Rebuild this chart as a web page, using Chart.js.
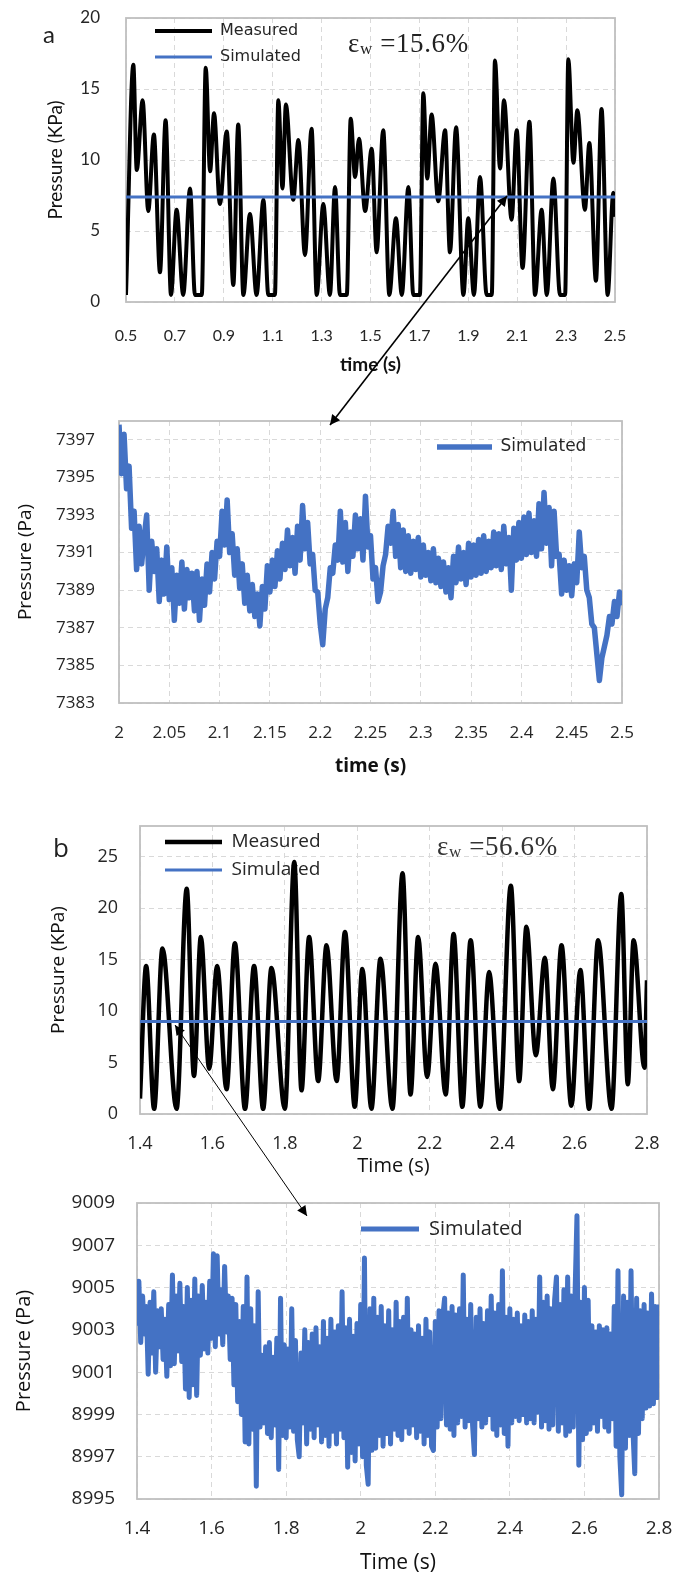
<!DOCTYPE html>
<html>
<head>
<meta charset="utf-8">
<script src="https://cdn.jsdelivr.net/npm/chart.js@4.4.0/dist/chart.umd.min.js"></script>
<style>
    body { margin: 0; background: #fff; }
    #page { position: relative; width: 689px; height: 1579px; overflow: hidden; background: #fff; }
    #page canvas { position: absolute; left: 0; }
    .tag { position: absolute; white-space: nowrap; line-height: 1; color: #222; }
    .eps { font-family: "Liberation Serif", "DejaVu Serif", serif; font-size: 27px; letter-spacing: 0.6px; color: #222; }
    .eps sub { font-size: 17px; vertical-align: -2px; }
    #arrows { position: absolute; left: 0; top: 0; pointer-events: none; }
</style>
</head>
<body>
<div id="page">
    <canvas id="chartA" width="689" height="395" style="top:0px"></canvas>
    <canvas id="chartA2" width="689" height="390" style="top:395px"></canvas>
    <canvas id="chartB" width="689" height="390" style="top:790px"></canvas>
    <canvas id="chartB2" width="689" height="399" style="top:1180px"></canvas>

    <div class="tag" style="left:43px; top:19px; font:24px Lato, sans-serif;">a</div>
    <div class="tag eps" style="left:348px; top:30px;">ε<sub>w</sub> =15.6%</div>
    <div class="tag" style="left:53px; top:829px; font:26px 'Open Sans', sans-serif;">b</div>
    <div class="tag eps" style="left:437px; top:833px; color:#333;">ε<sub>w</sub> =56.6%</div>

    <svg id="arrows" width="689" height="1579">
        <defs>
            <marker id="head" viewBox="0 0 10 10" refX="10" refY="5" markerUnits="userSpaceOnUse"
                    markerWidth="13" markerHeight="10" orient="auto-start-reverse">
                <path d="M0,0 L10,5 L0,10 z" fill="#000"></path>
            </marker>
        </defs>
        <line x1="507" y1="196" x2="330" y2="425" stroke="#000" stroke-width="1.6"
              marker-start="url(#head)" marker-end="url(#head)"></line>
        <line x1="175" y1="1025" x2="307" y2="1216" stroke="#000" stroke-width="1"
              marker-start="url(#head)" marker-end="url(#head)"></line>
    </svg>
</div>

<script>
// ---------- (a) measured vs simulated, kPa ----------
const timeA = [0.5, 0.53, 0.544, 0.568, 0.591, 0.614, 0.639, 0.662, 0.684, 0.707, 0.734, 0.762, 0.782, 0.81,
    0.826, 0.844, 0.86, 0.884, 0.912, 0.939, 0.959, 0.98, 1.007, 1.034, 1.062, 1.082, 1.109, 1.123, 1.14, 1.154,
    1.184, 1.205, 1.232, 1.259, 1.28, 1.307, 1.334, 1.355, 1.375, 1.403, 1.419, 1.437, 1.453, 1.478, 1.505, 1.525,
    1.552, 1.577, 1.604, 1.628, 1.655, 1.675, 1.702, 1.716, 1.732, 1.75, 1.777, 1.805, 1.825, 1.85, 1.88, 1.9,
    1.923, 1.948, 1.975, 1.996, 2.009, 2.03, 2.046, 2.077, 2.098, 2.122, 2.15, 2.173, 2.2, 2.221, 2.248, 2.275,
    2.296, 2.309, 2.33, 2.346, 2.377, 2.395, 2.422, 2.445, 2.47, 2.493, 2.5];
const measuredA = [0.5, 16.7, 9.3, 14.2, 6.4, 11.8, 2.1, 12.8, 0.5, 6.5, 0.5, 8.0, 0.5, 0.5,
    16.5, 9.2, 13.3, 6.9, 12.0, 1.2, 12.5, 0.5, 6.2, 0.5, 7.2, 0.5, 0.5, 14.2, 8.0, 13.9,
    7.2, 11.4, 3.3, 12.2, 0.5, 6.9, 0.5, 8.1, 0.5, 0.5, 12.9, 8.8, 11.5, 6.4, 10.8, 3.5,
    12.1, 0.5, 5.9, 0.5, 8.1, 0.5, 0.5, 14.7, 8.7, 13.2, 7.1, 12.1, 3.5, 12.3, 0.5, 5.9,
    0.5, 8.8, 0.5, 0.5, 17.0, 9.4, 14.2, 5.8, 12.1, 2.4, 12.7, 0.5, 6.5, 0.5, 8.7, 0.5,
    0.5, 17.1, 9.8, 13.5, 6.5, 11.2, 1.5, 13.6, 0.5, 7.7, 6.0];
const simTimeA = [0.5, 2.5];
const simulatedA = [7.39, 7.39];
const xTicksA = [0.5, 0.7, 0.9, 1.1, 1.3, 1.5, 1.7, 1.9, 2.1, 2.3, 2.5];
const yTicksA = [0, 5, 10, 15, 20];

// ---------- (a) zoom: simulated only, Pa, sampled every 2.5 ms from 2.0 s ----------
const zoomStartA = 2.0;
const zoomStepA = 0.0025;
const zoomSimA = [
    7397.8, 7395.2, 7397.3, 7394.4, 7395.6, 7392.3, 7393.2, 7390.1, 7392.4, 7390.4,
    7391.8, 7393.0, 7389.0, 7391.6, 7390.0, 7391.2, 7388.4, 7390.6, 7388.8, 7391.3,
    7388.5, 7390.2, 7387.4, 7389.8, 7388.3, 7390.5, 7388.0, 7390.1, 7388.6, 7389.9,
    7387.9, 7390.0, 7387.4, 7389.6, 7388.2, 7390.4, 7388.9, 7391.0, 7389.6, 7391.6,
    7390.8, 7393.2, 7391.4, 7393.8, 7391.0, 7392.0, 7389.8, 7391.2, 7389.1, 7390.4,
    7388.3, 7389.8, 7387.9, 7389.3, 7387.6, 7388.8, 7387.1, 7389.2, 7388.0, 7390.3,
    7388.9, 7390.6, 7389.2, 7391.1, 7389.6, 7391.5, 7390.1, 7392.2, 7390.3, 7391.8,
    7389.9, 7392.4, 7390.6, 7393.5, 7391.2, 7392.6, 7390.4, 7390.9, 7389.0, 7388.9,
    7387.2, 7386.1, 7388.0, 7388.6, 7390.2, 7389.9, 7391.4, 7390.6, 7393.2, 7390.5,
    7392.6, 7390.0, 7392.1, 7390.8, 7393.0, 7391.2, 7392.8, 7390.6, 7394.0, 7391.3,
    7391.9, 7389.6, 7390.2, 7388.4, 7388.9, 7390.3, 7390.9, 7392.4, 7391.5, 7393.2,
    7390.8, 7392.5, 7390.2, 7392.2, 7390.0, 7391.9, 7389.9, 7391.6, 7390.1, 7391.8,
    7389.7, 7391.4, 7389.8, 7391.0, 7389.5, 7391.2, 7389.4, 7390.7, 7389.2, 7390.5,
    7388.9, 7390.2, 7388.6, 7390.8, 7389.4, 7391.3, 7389.6, 7391.0, 7389.3, 7391.5,
    7389.7, 7391.4, 7389.8, 7391.7, 7389.9, 7391.9, 7390.0, 7391.6, 7390.2, 7392.1,
    7390.3, 7392.0, 7390.1, 7392.4, 7390.4, 7391.8, 7389.0, 7392.3, 7390.6, 7392.6,
    7390.7, 7392.9, 7390.9, 7393.1, 7391.0, 7392.7, 7390.8, 7393.6, 7391.2, 7394.2,
    7391.5, 7393.4, 7390.3, 7393.2, 7390.8, 7390.9, 7388.8, 7390.6, 7389.0, 7390.3,
    7388.7, 7390.4, 7389.4, 7392.1, 7390.2, 7390.8, 7389.0, 7388.6, 7387.2, 7387.0,
    7385.6, 7384.2, 7385.4, 7386.0, 7386.6, 7387.6, 7387.2, 7388.4, 7387.6, 7388.9,
    7388.2];
const xTicksA2 = [2, 2.05, 2.1, 2.15, 2.2, 2.25, 2.3, 2.35, 2.4, 2.45, 2.5];
const yTicksA2 = [7383, 7385, 7387, 7389, 7391, 7393, 7395, 7397];

// ---------- (b) measured vs simulated, kPa ----------
const timeB = [1.4, 1.417, 1.439, 1.462, 1.501, 1.529, 1.549, 1.568, 1.591, 1.613, 1.639, 1.662, 1.69, 1.715,
    1.74, 1.763, 1.8, 1.826, 1.846, 1.867, 1.892, 1.915, 1.943, 1.966, 1.993, 2.014, 2.039, 2.064, 2.097, 2.125,
    2.147, 2.168, 2.193, 2.216, 2.244, 2.266, 2.29, 2.313, 2.34, 2.364, 2.393, 2.424, 2.447, 2.467, 2.493, 2.518,
    2.54, 2.564, 2.591, 2.616, 2.64, 2.665, 2.702, 2.729, 2.747, 2.763, 2.793, 2.8];
const measuredB = [1.5, 14.4, 0.5, 16.1, 0.5, 21.9, 3.7, 17.2, 4.4, 14.4, 2.4, 16.6, 0.5, 14.4,
    0.5, 14.2, 0.5, 24.5, 2.3, 17.2, 3.2, 16.4, 3.2, 17.7, 0.7, 14.1, 0.5, 15.1, 0.5, 23.4,
    1.9, 17.2, 3.6, 14.6, 1.9, 17.5, 0.7, 16.9, 0.7, 13.8, 0.5, 22.2, 3.2, 18.2, 5.7, 15.2,
    2.4, 16.4, 0.8, 14.0, 0.5, 16.9, 0.5, 21.4, 2.9, 16.9, 4.5, 13.0];
const simTimeB = [1.4, 2.8];
const simulatedB = [9.0, 9.0];
const xTicksB = [1.4, 1.6, 1.8, 2, 2.2, 2.4, 2.6, 2.8];
const yTicksB = [0, 5, 10, 15, 20, 25];

// ---------- (b) zoom: simulated only, Pa, sampled every 5 ms from 1.4 s ----------
const zoomStartB = 1.4;
const zoomStepB = 0.005;
const zoomSimB = [
    9003.2, 9005.3, 9002.4, 9004.6, 9002.8, 9004.1, 9000.9, 9004.3, 9001.9, 9004.8,
    9001.0, 9003.9, 9002.2, 9004.0, 9001.6, 9003.5, 9000.8, 9004.2, 9001.3, 9005.6,
    9001.4, 9004.6, 9002.0, 9005.2, 9001.5, 9004.1, 9000.2, 9005.0, 8999.8, 9004.4,
    9000.4, 9005.4, 8999.9, 9004.6, 9001.8, 9005.1, 9002.1, 9004.3, 9001.9, 9005.3,
    9002.6, 9006.6, 9002.2, 9006.5, 9002.8, 9004.9, 9002.3, 9006.0, 9002.9, 9004.6,
    9001.6, 9004.5, 9000.4, 9004.2, 8999.6, 9003.4, 8999.0, 9004.1, 8997.7, 9005.5,
    8997.6, 9004.0, 8998.3, 9003.2, 8995.6, 9004.8, 8998.4, 9001.8, 8998.6, 9002.2,
    8998.1, 9002.4, 8997.9, 9001.7, 8998.5, 9002.6, 8996.4, 9004.5, 8998.0, 9002.3,
    8997.9, 9002.1, 8998.4, 9004.0, 8998.2, 9002.5, 8997.8, 8997.0, 9001.9, 8998.6,
    9003.0, 8997.6, 9002.4, 8998.3, 9002.8, 8997.9, 9003.1, 8998.5, 9002.2, 8997.7,
    9003.4, 8998.0, 9002.6, 8997.5, 9003.5, 8998.2, 9002.9, 8997.6, 9003.2, 8998.3,
    9004.8, 8997.9, 9003.1, 8996.5, 9003.5, 8997.2, 9002.7, 8996.8, 9003.3, 8997.6,
    9004.2, 8997.0, 9006.4, 8996.6, 8995.7, 9004.0, 8997.3, 9004.5, 8997.4, 9003.6,
    8998.0, 9004.1, 8997.5, 9003.2, 8998.1, 9003.9, 8997.6, 9003.0, 8998.3, 9004.3,
    8998.0, 9003.4, 8997.8, 9003.6, 8998.4, 9004.5, 8998.1, 9003.0, 8998.5, 9002.8,
    8997.9, 9003.2, 8998.2, 9002.6, 8997.6, 9003.5, 8998.0, 9002.9, 8997.5, 8997.3,
    9003.4, 8998.4, 9003.9, 8998.8, 9003.6, 9004.5, 8998.5, 9003.8, 8998.3, 9004.1,
    8998.0, 9003.7, 8998.6, 9004.0, 8998.9, 9005.6, 8998.4, 9003.5, 8998.7, 9004.2,
    8998.5, 8997.1, 9003.6, 8998.8, 9004.0, 8998.4, 9003.3, 8998.6, 9003.9, 8999.0,
    9004.6, 8998.3, 9003.8, 8998.0, 9004.2, 8998.5, 9005.8, 8998.1, 9003.6, 8997.5,
    9004.0, 8998.6, 9003.5, 8998.9, 9003.8, 8998.7, 9003.2, 8999.0, 9003.7, 8998.6,
    9003.4, 8998.8, 9003.9, 8998.6, 9003.5, 8999.1, 9005.5, 8998.4, 9004.3, 8998.7,
    9004.6, 8998.3, 9004.0, 8998.5, 9004.4, 9005.5, 8998.2, 9004.2, 8998.6, 9004.9,
    8998.0, 9005.5, 8998.2, 9004.6, 8998.4, 9004.8, 9008.4, 8996.6, 9004.3, 8997.8,
    9005.0, 8998.1, 9004.4, 8998.3, 9003.2, 8998.6, 9002.9, 8998.2, 9003.2, 8998.9,
    9003.0, 8998.4, 9003.1, 8998.2, 9002.8, 8998.8, 9004.1, 8997.5, 9005.8, 8997.0,
    8995.2, 9004.6, 8997.4, 9004.3, 8998.0, 9005.8, 8998.3, 8996.2, 9004.5, 8998.1,
    9003.9, 8998.8, 9004.2, 8999.3, 9003.8, 8999.4, 9004.7, 8999.5, 9004.1, 8999.8,
    9004.2];
const xTicksB2 = [1.4, 1.6, 1.8, 2, 2.2, 2.4, 2.6, 2.8];
const yTicksB2 = [8995, 8997, 8999, 9001, 9003, 9005, 9007, 9009];

const BLUE = "#4472C4";
const GRID = "#d9d9d9";

function pairs(xs, ys) {
    return ys.map((y, i) => ({ x: xs[i], y: y }));
}
function sampled(start, step, ys) {
    return ys.map((y, i) => ({ x: +(start + i * step).toFixed(4), y: y }));
}

// grey frame round the plot area, under the lines
const framePlugin = {
    id: "frame",
    beforeDatasetsDraw(chart) {
        const { ctx, chartArea: a } = chart;
        ctx.save();
        ctx.strokeStyle = "#bfbfbf";
        ctx.lineWidth = 1.8;
        ctx.setLineDash([]);
        ctx.strokeRect(a.left, a.top, a.right - a.left, a.bottom - a.top);
        ctx.restore();
    },
};

// put the legend at a fixed spot inside the plot area
const legendSpot = {
    id: "legendSpot",
    afterLayout(chart, args, opts) {
        const lg = chart.legend;
        if (!lg || opts.x == null) return;
        const pad = lg.options.labels.padding;
        const fs = lg.options.labels.font.size;
        lg.left = opts.x - pad;
        lg.top = opts.y - pad - fs / 2;
    },
};

function build(id, s) {
    const tickText = (v) => String(+Number(v).toFixed(3));
    return new Chart(document.getElementById(id), {
        type: "line",
        data: { datasets: s.datasets },
        options: {
            responsive: false,
            animation: false,
            devicePixelRatio: 1,
            layout: { padding: s.pad },
            elements: { point: { radius: 0 } },
            plugins: {
                tooltip: { enabled: false },
                legend: {
                    position: "chartArea",
                    align: "start",
                    labels: {
                        usePointStyle: true,
                        pointStyle: "line",
                        pointStyleWidth: s.legend.w,
                        padding: s.legend.pad,
                        color: "#262626",
                        font: { family: s.legend.family || s.font, size: s.legend.size },
                        sort: (a, b) => a.datasetIndex - b.datasetIndex,
                    },
                },
                legendSpot: { x: s.legend.x, y: s.legend.y },
            },
            scales: {
                x: {
                    type: "linear",
                    min: s.xTicks[0],
                    max: s.xTicks[s.xTicks.length - 1],
                    afterBuildTicks: (ax) => { ax.ticks = s.xTicks.map((v) => ({ value: v })); },
                    afterFit: (ax) => { ax.height = s.xAxisH; ax.paddingLeft = 0; ax.paddingRight = 0; },
                    grid: { color: GRID, lineWidth: 1, drawTicks: false },
                    border: { display: false, dash: [5, 4] },
                    ticks: {
                        autoSkip: false, maxRotation: 0, padding: s.xPad, color: "#262626",
                        font: { family: s.font, size: s.xSize }, callback: tickText,
                    },
                    title: {
                        display: true, text: s.xTitle, color: "#111", padding: 0,
                        font: { family: s.font, size: s.xTitleSize, weight: s.xTitleWeight },
                    },
                },
                y: {
                    type: "linear",
                    min: s.yMin,
                    max: s.yMax,
                    afterBuildTicks: (ax) => { ax.ticks = s.yTicks.map((v) => ({ value: v })); },
                    afterFit: (ax) => { ax.width = s.yAxisW; ax.paddingTop = 0; ax.paddingBottom = 0; },
                    grid: { color: GRID, lineWidth: 1, drawTicks: false },
                    border: { display: false, dash: [5, 4] },
                    ticks: {
                        padding: s.yPad, color: "#262626",
                        font: { family: s.font, size: s.ySize }, callback: tickText,
                    },
                    title: {
                        display: true, text: s.yTitle, color: "#111", padding: 0,
                        font: { family: s.font, size: s.yTitleSize },
                    },
                },
            },
        },
        plugins: [framePlugin, legendSpot],
    });
}

// (a)
build("chartA", {
    font: "Lato",
    pad: { left: 44, right: 74, top: 18, bottom: 19 },
    yAxisW: 82, xAxisH: 74,
    xTicks: xTicksA, yTicks: yTicksA, yMin: 0, yMax: 20,
    xPad: 24, xSize: 16, yPad: 26, ySize: 17,
    xTitle: "time (s)", xTitleSize: 19, xTitleWeight: "bold",
    yTitle: "Pressure (KPa)", yTitleSize: 19,
    legend: { x: 155, y: 31, w: 57, pad: 10, size: 16, family: "DejaVu Sans" },
    datasets: [
        {
            label: "Measured", data: pairs(timeA, measuredA), order: 2,
            borderColor: "#000", backgroundColor: "#000", borderWidth: 4,
            cubicInterpolationMode: "monotone",
        },
        {
            label: "Simulated", data: pairs(simTimeA, simulatedA), order: 1,
            borderColor: BLUE, backgroundColor: BLUE, borderWidth: 3,
        },
    ],
});

// (a) zoom
build("chartA2", {
    font: "Open Sans",
    pad: { left: 14, right: 67, top: 26, bottom: 7 },
    yAxisW: 105, xAxisH: 75,
    xTicks: xTicksA2, yTicks: yTicksA2, yMin: 7383, yMax: 7398,
    xPad: 20, xSize: 17, yPad: 24, ySize: 17,
    xTitle: "time (s)", xTitleSize: 19, xTitleWeight: "bold",
    yTitle: "Pressure (Pa)", yTitleSize: 19,
    legend: { x: 437, y: 52, w: 55, pad: 10, size: 17, family: "DejaVu Sans" },
    datasets: [
        {
            label: "Simulated", data: sampled(zoomStartA, zoomStepA, zoomSimA),
            borderColor: BLUE, backgroundColor: BLUE, borderWidth: 5.5,
            borderJoinStyle: "round", tension: 0,
        },
    ],
});

// (b)
build("chartB", {
    font: "Open Sans",
    pad: { left: 47, right: 42, top: 36, bottom: 2 },
    yAxisW: 93, xAxisH: 64,
    xTicks: xTicksB, yTicks: yTicksB, yMin: 0, yMax: 28,
    xPad: 19, xSize: 18, yPad: 22, ySize: 18,
    xTitle: "Time (s)", xTitleSize: 20, xTitleWeight: "normal",
    yTitle: "Pressure (KPa)", yTitleSize: 19,
    legend: { x: 165, y: 52, w: 57, pad: 9, size: 19 },
    datasets: [
        {
            label: "Measured", data: pairs(timeB, measuredB), order: 2,
            borderColor: "#000", backgroundColor: "#000", borderWidth: 4.5,
            cubicInterpolationMode: "monotone",
        },
        {
            label: "Simulated", data: pairs(simTimeB, simulatedB), order: 1,
            borderColor: BLUE, backgroundColor: BLUE, borderWidth: 3,
        },
    ],
});

// (b) zoom
build("chartB2", {
    font: "Open Sans",
    pad: { left: 12, right: 30, top: 23, bottom: 3 },
    yAxisW: 125, xAxisH: 77,
    xTicks: xTicksB2, yTicks: yTicksB2, yMin: 8995, yMax: 9009,
    xPad: 18, xSize: 19, yPad: 22, ySize: 19,
    xTitle: "Time (s)", xTitleSize: 21, xTitleWeight: "normal",
    yTitle: "Pressure (Pa)", yTitleSize: 20,
    legend: { x: 361, y: 49, w: 58, pad: 10, size: 20 },
    datasets: [
        {
            label: "Simulated", data: sampled(zoomStartB, zoomStepB, zoomSimB),
            borderColor: BLUE, backgroundColor: BLUE, borderWidth: 5,
            borderJoinStyle: "round", tension: 0,
        },
    ],
});
</script>
</body>
</html>
